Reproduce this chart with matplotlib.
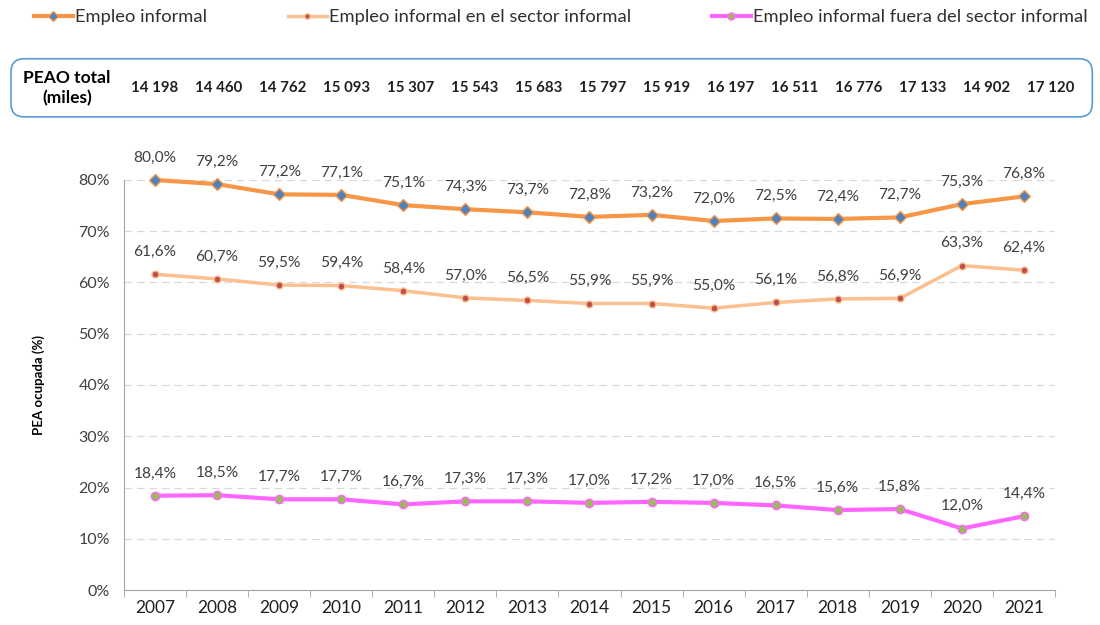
import matplotlib
matplotlib.use("Agg")
from matplotlib import pyplot as plt
from matplotlib.patches import FancyBboxPatch
from matplotlib.lines import Line2D
import numpy as np

years = [2007, 2008, 2009, 2010, 2011, 2012, 2013, 2014, 2015, 2016, 2017, 2018, 2019, 2020, 2021]
empleo_informal = [80.0, 79.2, 77.2, 77.1, 75.1, 74.3, 73.7, 72.8, 73.2, 72.0, 72.5, 72.4, 72.7, 75.3, 76.8]
en_sector = [61.6, 60.7, 59.5, 59.4, 58.4, 57.0, 56.5, 55.9, 55.9, 55.0, 56.1, 56.8, 56.9, 63.3, 62.4]
fuera_sector = [18.4, 18.5, 17.7, 17.7, 16.7, 17.3, 17.3, 17.0, 17.2, 17.0, 16.5, 15.6, 15.8, 12.0, 14.4]
peao_total = ["14 198", "14 460", "14 762", "15 093", "15 307", "15 543", "15 683", "15 797",
              "15 919", "16 197", "16 511", "16 776", "17 133", "14 902", "17 120"]

plt.rcParams["font.family"] = ["Lato", "DejaVu Sans"]

fig = plt.figure(figsize=(11, 6.25), dpi=100)
ax = fig.add_axes([0.1127, 0.056, 0.8464, 0.656])

x = list(range(len(years)))
series = [
    (empleo_informal, "Empleo informal", "#f79646", 3.0, "D", "#4f81bd", 6),
    (en_sector, "Empleo informal en el sector informal", "#fac090", 2.5, "o", "#c0504d", 5),
    (fuera_sector, "Empleo informal fuera del sector informal", "#ff66ff", 3.0, "o", "#9bbb59", 6),
]
handles = []
for vals, name, col, lw, mk, mcol, ms in series:
    ax.plot(x, vals, color=col, lw=lw, marker=mk, markerfacecolor=mcol,
            markeredgecolor=col, markeredgewidth=1.0, markersize=ms, clip_on=False, zorder=3)
    handles.append(Line2D([], [], color=col, lw=lw, marker=mk, markerfacecolor=mcol,
                          markeredgecolor=col, markersize=ms - 1, label=name))
    for xi, v in zip(x, vals):
        ax.annotate(f"{v:.1f}%".replace(".", ","), (xi, v), xytext=(0, 11),
                    textcoords="offset points", ha="center", va="bottom",
                    fontsize=11.2, color="#404040", annotation_clip=False)

ax.set_xlim(-0.5, len(years) - 0.5)
ax.set_ylim(0, 80)
ax.set_yticks(range(0, 81, 10))
ax.set_yticklabels([f"{v}%" for v in range(0, 81, 10)], fontsize=11.5, color="#404040")
ax.set_xticks(x)
ax.set_xticklabels([str(y) for y in years], fontsize=12.5, color="#202020")
ax.set_xticks([i - 0.5 for i in range(len(years) + 1)], minor=True)
ax.tick_params(axis="x", which="major", length=0, pad=7)
ax.tick_params(axis="x", which="minor", length=5, color="#a0a0a0")
ax.tick_params(axis="y", length=0, pad=10)
ax.grid(axis="y", color="#d9d9d9", linestyle=(0, (6, 4)), lw=0.9)
ax.set_axisbelow(True)
for s in ["top", "right"]:
    ax.spines[s].set_visible(False)
for s in ["left", "bottom"]:
    ax.spines[s].set_color("#a6a6a6")
ax.set_ylabel("PEA ocupada (%)", fontsize=9.5, fontweight="bold", labelpad=24)

# legend
fig.legend(handles=handles, loc="upper left", bbox_to_anchor=(0.016, 1.012), ncol=3,
           frameon=False, fontsize=13.2, handlelength=2.1, handletextpad=0.15,
           columnspacing=4.4, labelcolor="#303030")

# PEAO box
box = FancyBboxPatch((0.010, 0.813), 0.983, 0.093, boxstyle="round,pad=0,rounding_size=0.012",
                     transform=fig.transFigure, fill=False, edgecolor="#5b9bd5", lw=1.2,
                     mutation_aspect=1.76)
fig.patches.append(box)
fig.text(0.061, 0.859, "PEAO total\n(miles)", ha="center", va="center", fontsize=12.5,
         fontweight="bold", linespacing=1.25)
peao_x = np.linspace(155 / 1100, 1051 / 1100, len(peao_total))
for px, t in zip(peao_x, peao_total):
    fig.text(px, 0.859, t, ha="center", va="center", fontsize=10.8,
             fontweight="bold", color="#202020")

fig.savefig("out.png", dpi=100)
